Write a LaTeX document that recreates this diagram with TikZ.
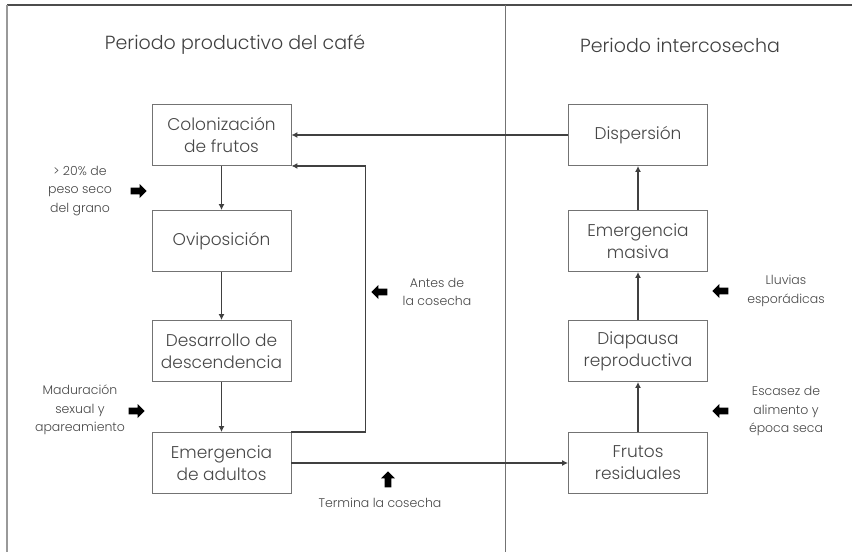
\documentclass[tikz,border=0pt]{standalone}
\usepackage{fontspec}
\setmainfont{Poppins Light}
\usetikzlibrary{arrows.meta,shapes.arrows}
\tikzset{
  stage/.style={draw=black!55, line width=0.9pt, minimum width=139pt, minimum height=61pt,
    inner sep=0pt, align=center, text=black!72, font=\fontsize{17}{22}\selectfont},
  note/.style={align=center, text=black!72, font=\fontsize{12.5}{18.5}\selectfont},
  heading/.style={text=black!75, font=\fontsize{19}{22}\selectfont},
  cue/.style={single arrow, fill=black, draw=none, minimum height=16pt, minimum width=14pt,
    single arrow head extend=2.5pt, inner sep=2.2pt},
  flow/.style={draw=black!75, line width=1.5pt, -{Latex[length=6pt,width=6pt]}},
}

\begin{document}
\begin{tikzpicture}[x=1pt,y=-1pt]
			%%%%% START %%%%%
			\useasboundingbox (0,0) rectangle (852,552);
			
			\draw[line width=2.5pt, color=black!70] (7,5) -- (852,5);
			\draw[line width=2pt, color=black!40] (7,5) -- (7,552);
			\draw[line width=1pt, color=black!55] (505,5) -- (505,552);
			
			\node[heading] (tprod) at (235,45) {Periodo productivo del café};
			\node[heading] (tinter) at (680,45) {Periodo intercosecha};
			
			% ciclo productivo
			\node[stage] (colon) at (221.5,135) {Colonización\\de frutos};
			\node[stage] (ovip) at (221.5,241) {Oviposición};
			\node[stage] (desa) at (221.5,351) {Desarrollo de\\descendencia};
			\node[stage] (emad) at (221.5,463) {Emergencia\\de adultos};
			
			% intercosecha
			\node[stage] (disp) at (638,135) {Dispersión};
			\node[stage] (emas) at (638,241) {Emergencia\\masiva};
			\node[stage] (diap) at (638,351) {Diapausa\\reproductiva};
			\node[stage] (frut) at (638,463) {Frutos\\residuales};
			
			\draw[flow] (colon) -- (ovip);
			\draw[flow] (ovip) -- (desa);
			\draw[flow] (desa) -- (emad);
			\draw[flow] (emad.north east) -- ++(74,0) |- (colon.south east);
			\draw[flow] (emad) -- (frut);
			\draw[flow] (frut) -- (diap);
			\draw[flow] (diap) -- (emas);
			\draw[flow] (emas) -- (disp);
			\draw[flow] (disp) -- (colon);
			
			% condiciones
			\node[note] (peso) at (80,191) {> 20\% de\\peso seco\\del grano};
			\node[cue] (cpeso) at (137,191) {};
			\node[note] (madu) at (80,410) {Maduración\\sexual y\\apareamiento};
			\node[cue] (cmadu) at (135,411) {};
			\node[note] (antes) at (437,292) {Antes de\\la cosecha};
			\node[cue, rotate=180] (cantes) at (381,292) {};
			\node[note] (lluv) at (786,291) {Lluvias\\esporádicas};
			\node[cue, rotate=180] (clluv) at (722,291) {};
			\node[note] (esca) at (786,411) {Escasez de\\alimento y\\época seca};
			\node[cue, rotate=180] (cesca) at (722,411) {};
			\node[note] (term) at (380,503) {Termina la cosecha};
			\node[cue, rotate=90] (cterm) at (388,481) {};
			
			%%%%% END %%%%%
\end{tikzpicture}
\end{document}
